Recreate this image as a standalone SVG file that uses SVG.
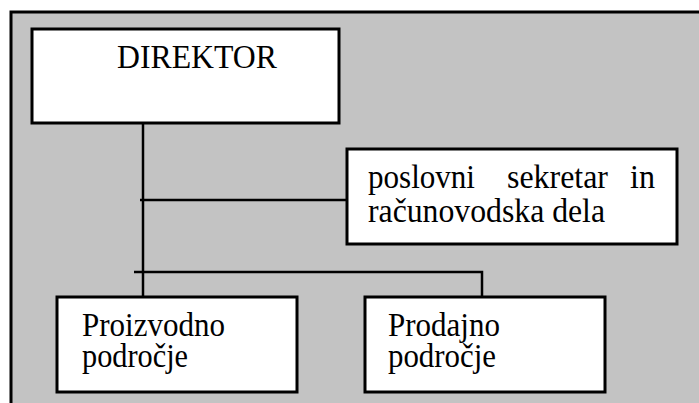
<svg xmlns="http://www.w3.org/2000/svg" width="699" height="403" viewBox="0 0 699 403">
<style>
.box{fill:#ffffff;stroke:#000;stroke-width:3}
.ln{fill:none;stroke:#000;stroke-width:2.5}
text{font-family:"Liberation Serif","Times New Roman",serif;font-size:33px;fill:#000}
</style>
<rect x="0" y="0" width="699" height="403" fill="#ffffff"/>
<rect id="frame" x="11" y="12" width="700" height="400" fill="#c3c3c3" stroke="#000" stroke-width="3"/>
<g id="connectors">
<path class="ln" d="M143 123 V303"/>
<path class="ln" d="M140 200 H347"/>
<path class="ln" d="M134 272 H482 V297"/>
</g>
<g id="direktor">
<rect class="box" x="32" y="29" width="307" height="94"/>
<text x="117" y="68" textLength="160" lengthAdjust="spacingAndGlyphs">DIREKTOR</text>
</g>
<g id="sekretar">
<rect class="box" x="347" y="149" width="330" height="95"/>
<text x="368" y="188" textLength="107" lengthAdjust="spacingAndGlyphs">poslovni</text>
<text x="507" y="188" textLength="101" lengthAdjust="spacingAndGlyphs">sekretar</text>
<text x="630" y="188" textLength="25" lengthAdjust="spacingAndGlyphs">in</text>
<text x="368" y="222" textLength="237" lengthAdjust="spacingAndGlyphs">računovodska dela</text>
</g>
<g id="proizvodno">
<rect class="box" x="57" y="297" width="240" height="95"/>
<text x="82" y="336" textLength="143" lengthAdjust="spacingAndGlyphs">Proizvodno</text>
<text x="82" y="367" textLength="106" lengthAdjust="spacingAndGlyphs">področje</text>
</g>
<g id="prodajno">
<rect class="box" x="365" y="297" width="240" height="95"/>
<text x="388" y="336" textLength="112" lengthAdjust="spacingAndGlyphs">Prodajno</text>
<text x="388" y="367" textLength="108" lengthAdjust="spacingAndGlyphs">področje</text>
</g>
</svg>
